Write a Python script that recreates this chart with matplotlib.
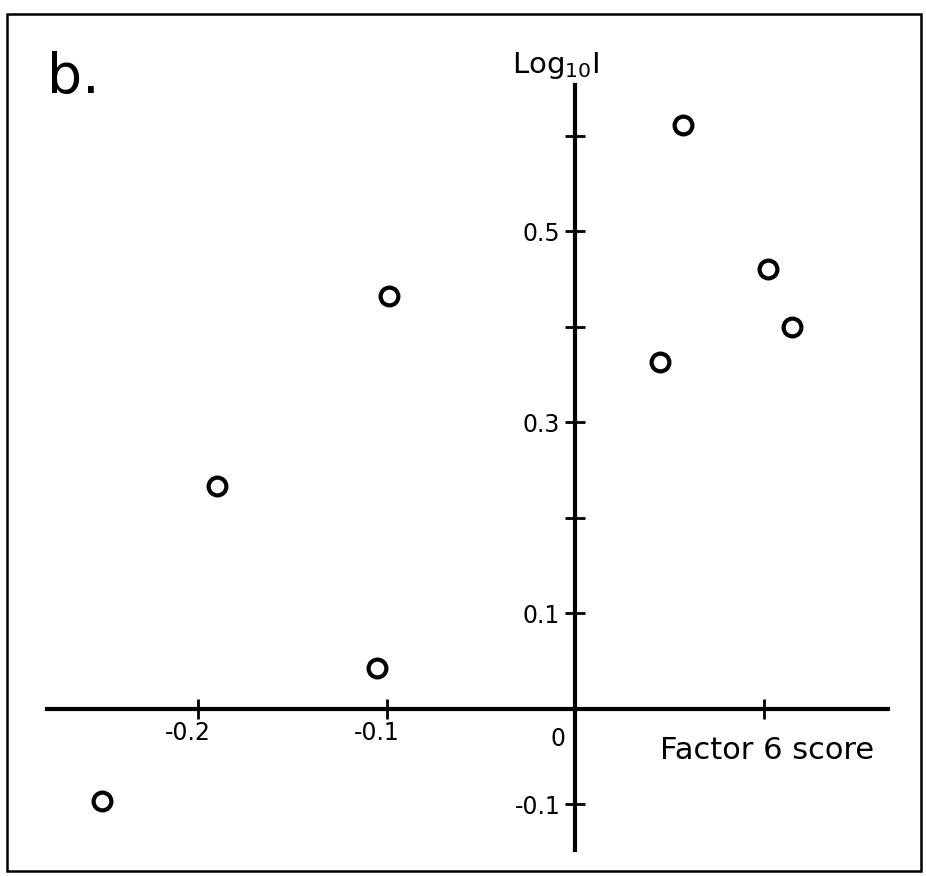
import matplotlib.pyplot as plt
from matplotlib.patches import Rectangle
from matplotlib.transforms import ScaledTranslation

# Factor 6 score vs log10 I
factor6 = [-0.251, -0.190, -0.099, -0.105, 0.045, 0.057, 0.102, 0.115]
log_i = [-0.096, 0.233, 0.432, 0.043, 0.363, 0.611, 0.460, 0.400]

xticks = [-0.2, -0.1, 0.1]
xticklabels = ['-0.2', '-0.1', '']
yticks = [-0.1, 0.1, 0.2, 0.3, 0.4, 0.5, 0.6]
yticklabels = ['-0.1', '0.1', '', '0.3', '', '0.5', '']

plt.rcParams['font.family'] = 'DejaVu Sans'

fig = plt.figure(figsize=(9.26, 8.76), dpi=100)
ax = fig.add_axes([0, 0, 1, 1])
ax.set_xlim(-0.305, 0.186)
ax.set_ylim(-0.175, 0.742)
ax.patch.set_alpha(0)

# axes crossing at the origin
for side in ['top', 'right']:
    ax.spines[side].set_visible(False)
ax.spines['left'].set_position(('data', 0))
ax.spines['bottom'].set_position(('data', 0))
ax.spines['left'].set_bounds(-0.148, 0.653)
ax.spines['bottom'].set_bounds(-0.280, 0.166)
for side in ['left', 'bottom']:
    ax.spines[side].set_linewidth(3)

ax.set_xticks(xticks)
ax.set_xticklabels(xticklabels)
ax.set_yticks(yticks)
ax.set_yticklabels(yticklabels)
ax.tick_params(axis='both', direction='inout', length=14, width=2, labelsize=17)
ax.tick_params(axis='x', pad=1.6)
ax.tick_params(axis='y', pad=3.8)
for lab in ax.get_xticklabels():
    lab.set_transform(lab.get_transform() + ScaledTranslation(-7 / 72, 0, fig.dpi_scale_trans))

ax.annotate('0', xy=(-0.009, 0), xytext=(0, -13), textcoords='offset points',
            ha='center', va='top', fontsize=17)

ax.plot(factor6, log_i, 'o', ms=12.8, mfc='white', mec='black', mew=3, clip_on=False)

ax.text(0.1015, 0, 'Factor 6 score', fontsize=22, ha='center', va='baseline',
        transform=ax.transData + ScaledTranslation(0, -36 / 72, fig.dpi_scale_trans))
fig.text(512 / 926, 1 - 73 / 876, r'Log$_{10}$I', fontsize=21, va='baseline')
fig.text(47 / 926, 1 - 93 / 876, 'b.', fontsize=40, va='baseline')

fig.patches.append(Rectangle((0.008, 0.006), 0.987, 0.978, transform=fig.transFigure,
                             fill=False, lw=1.8, ec='black'))

fig.savefig('out.png', dpi=100)
